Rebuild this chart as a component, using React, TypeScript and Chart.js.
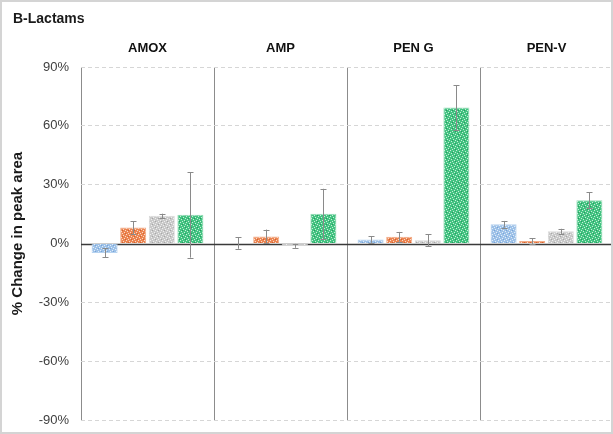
import { useEffect, useRef } from "react";
import { Chart, registerables } from "chart.js";

Chart.register(...registerables);

const chartTitle = "B-Lactams";
const yAxisTitle = "% Change in peak area";
const categories = ["AMOX", "AMP", "PEN G", "PEN-V"];
const seriesNames = ["Series 1", "Series 2", "Series 3", "Series 4"];
const blueValues = [-4.8, 0.3, 2.0, 9.8];
const blueErrors = [2.3, 3.0, 1.7, 1.7];
const orangeValues = [8.2, 3.6, 3.4, 1.3];
const orangeErrors = [3.2, 3.5, 2.5, 1.5];
const grayValues = [14.1, -1.2, 1.7, 6.2];
const grayErrors = [1.1, 1.0, 3.0, 1.3];
const greenValues = [14.6, 15.2, 69.4, 22.1];
const greenErrors = [21.8, 12.7, 11.3, 4.0];
const yMin = -90;
const yMax = 90;
const yStep = 30;

const FONT = "'Liberation Sans', Arial, sans-serif";

function makePattern(base: string, dark: string): CanvasPattern | string {
  const c = document.createElement("canvas");
  c.width = 6;
  c.height = 6;
  const g = c.getContext("2d");
  if (!g) return base;
  g.fillStyle = base;
  g.fillRect(0, 0, 6, 6);
  g.fillStyle = "rgba(255,255,255,0.7)";
  const whites = [[0, 0], [3, 1], [1, 3], [4, 4], [5, 2], [2, 5]];
  whites.forEach(([x, y]) => g.fillRect(x, y, 1, 1));
  g.fillStyle = dark;
  const darks = [[2, 2], [5, 5]];
  darks.forEach(([x, y]) => g.fillRect(x, y, 1, 1));
  return g.createPattern(c, "repeat") || base;
}

export default function App() {
  const ref = useRef<HTMLCanvasElement | null>(null);

  useEffect(() => {
    if (!ref.current) return;
    const errors = [blueErrors, orangeErrors, grayErrors, greenErrors];

    const errorBarPlugin = {
      id: "errorBars",
      afterDatasetsDraw(chart: any) {
        const ctx = chart.ctx;
        const ys = chart.scales.y;
        ctx.save();
        ctx.strokeStyle = "#8a8a8a";
        ctx.lineWidth = 1;
        chart.data.datasets.forEach((ds: any, di: number) => {
          const meta = chart.getDatasetMeta(di);
          meta.data.forEach((bar: any, i: number) => {
            const v = ds.data[i];
            const e = errors[di][i];
            const x = Math.round(bar.x) + 0.5;
            const y1 = ys.getPixelForValue(v + e);
            const y2 = ys.getPixelForValue(v - e);
            ctx.beginPath();
            ctx.moveTo(x, y1);
            ctx.lineTo(x, y2);
            ctx.moveTo(x - 3, Math.round(y1) + 0.5);
            ctx.lineTo(x + 3, Math.round(y1) + 0.5);
            ctx.moveTo(x - 3, Math.round(y2) + 0.5);
            ctx.lineTo(x + 3, Math.round(y2) + 0.5);
            ctx.stroke();
          });
        });
        ctx.restore();
      },
    };

    const decorPlugin = {
      id: "decor",
      beforeDraw(chart: any) {
        const ctx = chart.ctx;
        ctx.save();
        ctx.fillStyle = "#ffffff";
        ctx.fillRect(0, 0, chart.width, chart.height);
        ctx.restore();
      },
      beforeDatasetsDraw(chart: any) {
        const ctx = chart.ctx;
        const ys = chart.scales.y;
        const a = chart.chartArea;
        const y0 = Math.round(ys.getPixelForValue(0)) + 0.5;
        ctx.save();
        ctx.strokeStyle = "#3a3a3a";
        ctx.lineWidth = 1.3;
        ctx.beginPath();
        ctx.moveTo(a.left, y0);
        ctx.lineTo(a.right, y0);
        ctx.stroke();
        ctx.restore();
      },
      afterDraw(chart: any) {
        const ctx = chart.ctx;
        const a = chart.chartArea;
        ctx.save();
        ctx.fillStyle = "#1a1a1a";
        ctx.font = `bold 14px ${FONT}`;
        ctx.textAlign = "left";
        ctx.textBaseline = "middle";
        ctx.fillText(chartTitle, 13, 19.5);
        ctx.translate(18, (a.top + a.bottom) / 2 - 10);
        ctx.rotate(-Math.PI / 2);
        ctx.textAlign = "center";
        ctx.font = `bold 15px ${FONT}`;
        ctx.fillText(yAxisTitle, 0, 0);
        ctx.restore();
        ctx.save();
        ctx.strokeStyle = "#d4d4d4";
        ctx.lineWidth = 2;
        ctx.strokeRect(1, 1, chart.width - 2, chart.height - 2);
        ctx.restore();
      },
    };

    const chart = new Chart(ref.current, {
      type: "bar",
      data: {
        labels: categories,
        datasets: [
          {
            label: seriesNames[0],
            data: blueValues,
            backgroundColor: makePattern("#9dc1e8", "#78a3d6"),
            borderColor: "#b5d2f0",
            borderWidth: 1,
          },
          {
            label: seriesNames[1],
            data: orangeValues,
            backgroundColor: makePattern("#ec8552", "#cf6330"),
            borderColor: "#f3ad88",
            borderWidth: 1,
          },
          {
            label: seriesNames[2],
            data: grayValues,
            backgroundColor: makePattern("#c9c9c9", "#a6a6a6"),
            borderColor: "#dadada",
            borderWidth: 1,
          },
          {
            label: seriesNames[3],
            data: greenValues,
            backgroundColor: makePattern("#43c381", "#27985e"),
            borderColor: "#93dcb5",
            borderWidth: 1,
          },
        ],
      },
      options: {
        animation: false,
        responsive: true,
        maintainAspectRatio: false,
        layout: { padding: { left: 0, right: 0, top: 0, bottom: 14 } },
        datasets: {
          bar: { categoryPercentage: 0.86, barPercentage: 0.91 },
        },
        plugins: {
          legend: { display: false },
          tooltip: { enabled: false },
          title: { display: false },
        },
        scales: {
          x: {
            position: "top",
            offset: true,
            grid: {
              offset: true,
              color: "#8c8c8c",
              lineWidth: 1,
              drawTicks: false,
            },
            border: { display: false },
            ticks: {
              color: "#111111",
              font: { family: FONT, size: 13, weight: "bold" },
              padding: 11,
            },
            afterFit: (s: any) => {
              s.height = 67;
            },
          },
          y: {
            min: yMin,
            max: yMax,
            grid: {
              color: (c: any) =>
                c.tick && c.tick.value === 0 ? "rgba(0,0,0,0)" : "#d6d6d6",
              lineWidth: 1,
              drawTicks: false,
            },
            border: { display: false, dash: [4, 3] },
            ticks: {
              stepSize: yStep,
              color: "#404040",
              font: { family: FONT, size: 13 },
              padding: 12,
              callback: (v: any) => `${v}%`,
            },
            afterFit: (s: any) => {
              s.width = 81;
              s.paddingTop = 0;
              s.paddingBottom = 0;
            },
          },
        },
      },
      plugins: [decorPlugin, errorBarPlugin],
    } as any);

    return () => chart.destroy();
  }, []);

  return (
    <div
      style={{
        position: "fixed",
        left: 0,
        top: 0,
        width: 613,
        height: 434,
        background: "#ffffff",
      }}
    >
      <canvas ref={ref} />
    </div>
  );
}
